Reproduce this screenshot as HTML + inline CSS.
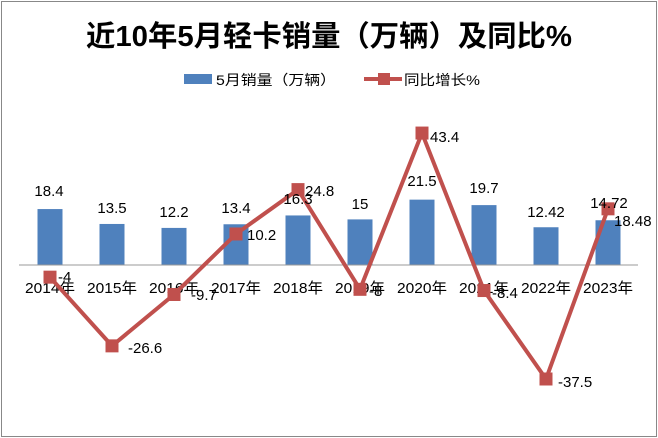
<!DOCTYPE html><html><head><style>body{margin:0;background:#fff}svg{display:block}text{font-family:"Liberation Sans","Noto Sans CJK SC",sans-serif}</style></head><body>
<svg width="658" height="438" viewBox="0 0 658 438">
<rect x="1.5" y="1.5" width="655" height="435" fill="#fff" stroke="#888"/>
<text x="329" y="46" text-anchor="middle" font-size="29" font-weight="bold" fill="#000" textLength="486" lengthAdjust="spacingAndGlyphs">近10年5月轻卡销量（万辆）及同比%</text>
<rect x="184" y="74" width="28" height="10" fill="#4f81bd"/>
<text x="216" y="85" font-size="14" fill="#000" textLength="120" lengthAdjust="spacingAndGlyphs">5月销量（万辆）</text>
<line x1="364" y1="79" x2="402" y2="79" stroke="#c0504d" stroke-width="4"/>
<rect x="378" y="73" width="12" height="12" fill="#c0504d"/>
<text x="404" y="85" font-size="14" fill="#000" textLength="76" lengthAdjust="spacingAndGlyphs">同比增长%</text>
<g fill="#4f81bd" id="bars"></g>
<line x1="19" y1="265" x2="638" y2="265" stroke="#999"/>
<g id="cat" font-size="15" text-anchor="middle"></g>
<polyline id="ln" fill="none" stroke="#c0504d" stroke-width="4" stroke-linejoin="miter"/>
<g id="mk" fill="#c0504d"></g>
<g id="lb" font-size="15"></g>
<g id="vl" font-size="15"></g>
</svg>
<script>
var bars=[18.4,13.5,12.2,13.4,16.3,15,21.5,19.7,12.42,14.72],ln=[-4,-26.6,-9.7,10.2,24.8,-8,43.4,-8.4,-37.5,18.48];
var ns="http://www.w3.org/2000/svg",k=3.04,y0=265,pts=[];
function el(t,a,p,txt){var e=document.createElementNS(ns,t);for(var i in a)e.setAttribute(i,a[i]);if(txt!=null)e.textContent=txt;document.getElementById(p).appendChild(e);}
var bl=[[49,196],[112,213],[174,217],[236,213],[298,204],[360,209],[422,186],[484,193],[546,217],[609,208]];
for(var i=0;i<10;i++){var x=19+62*(i+0.5);var h=bars[i]*k;
el('rect',{x:x-12.5,y:y0-h,width:25,height:h},'bars');
el('text',{x:x,y:293,textLength:50,lengthAdjust:'spacingAndGlyphs'},'cat',(2014+i)+'年');
var y=y0-ln[i]*k;pts.push(x+','+y);
el('rect',{x:x-6.5,y:y-6.5,width:13,height:13},'mk');
el('text',{x:bl[i][0],y:bl[i][1],'text-anchor':'middle'},'vl',bars[i]);}
document.getElementById('ln').setAttribute('points',pts.join(' '));
var ll=[[58,282],[128,353],[191,300],[247,240],[305,196],[369,296],[430,142],[492,298],[558,387],[614,226]];
for(var i=0;i<10;i++)el('text',{x:ll[i][0],y:ll[i][1]},'lb',ln[i]);
</script>
</body></html>
